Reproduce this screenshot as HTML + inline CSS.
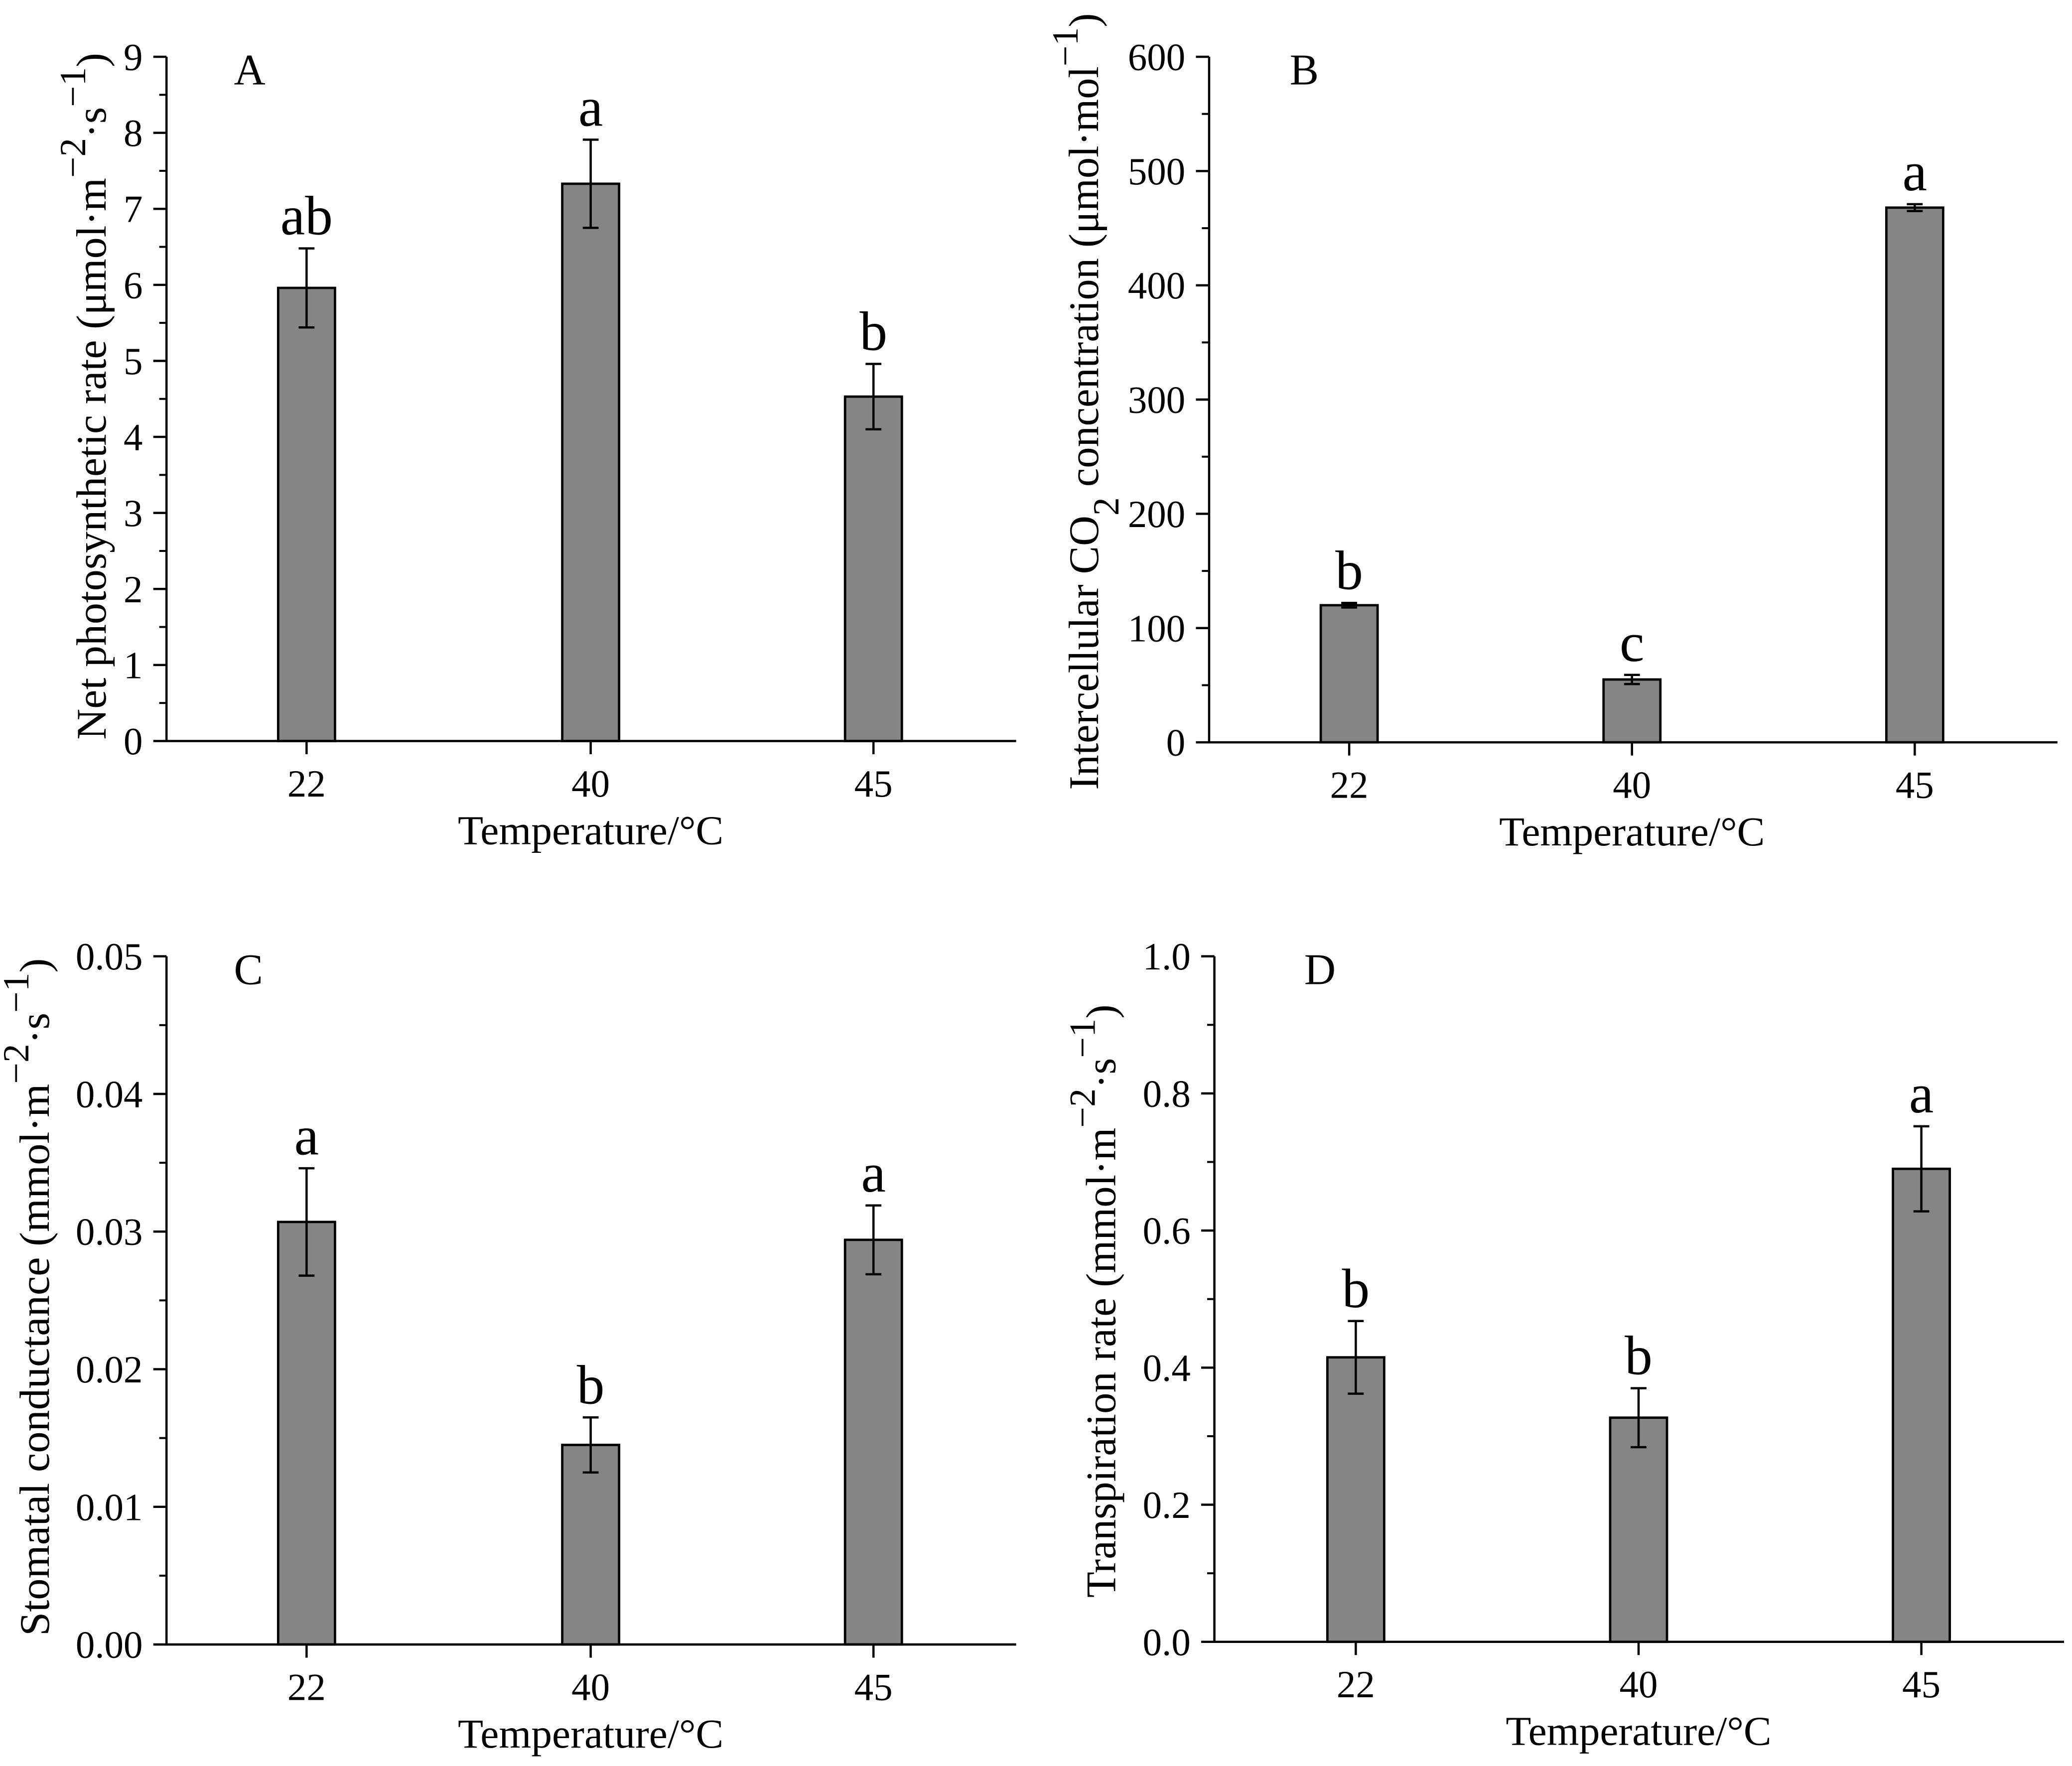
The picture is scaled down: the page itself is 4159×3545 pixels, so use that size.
<!DOCTYPE html>
<html><head><meta charset="utf-8"><style>
html,body{margin:0;padding:0;background:#fff}
svg{display:block}
text{font-family:"Liberation Serif",serif;fill:#000}
</style></head>
<body>
<svg id="fig" width="4159" height="3545" viewBox="0 0 1568 1337" preserveAspectRatio="none" xmlns="http://www.w3.org/2000/svg"></svg>
<script>
const categories = ["22","40","45"];
const valuesA = [5.96, 7.33, 4.53];
const errorsA = [0.52, 0.58, 0.43];
const lettersA = ["ab","a","b"];
const ticksA = [0,1,2,3,4,5,6,7,8,9];
const valuesB = [120, 55, 468];
const errorsB = [2, 4, 3];
const lettersB = ["b","c","a"];
const ticksB = [0,100,200,300,400,500,600];
const valuesC = [0.0307, 0.0145, 0.0294];
const errorsC = [0.0039, 0.0020, 0.0025];
const lettersC = ["a","b","a"];
const ticksC = ["0.00","0.01","0.02","0.03","0.04","0.05"];
const valuesD = [0.415, 0.327, 0.690];
const errorsD = [0.053, 0.043, 0.062];
const lettersD = ["b","b","a"];
const ticksD = ["0.0","0.2","0.4","0.6","0.8","1.0"];

const NS = "http://www.w3.org/2000/svg";
const svg = document.getElementById("fig");
function mk(tag, attrs, parent, txt){
  const e = document.createElementNS(NS, tag);
  for (const k in attrs) e.setAttribute(k, attrs[k]);
  if (txt !== undefined) e.textContent = txt;
  (parent || svg).appendChild(e);
  return e;
}

function panel(o){
  const g = mk("g", {});
  
  
  const tickVals = o.ticks.map(Number);
  const ymax = tickVals[tickVals.length-1];
  const ys = v => o.y0 - (v/ymax)*(o.y0 - o.yTop);
  const xs = i => o.xc[i];
  o.vals.forEach((v,i)=>{
    const b = mk("rect", {x: xs(i)-21.5, y: ys(v), width: 43, height: o.y0 - ys(v), fill:"#858585", stroke:"#000", "stroke-width":1.8}, g);
    
    
    const top = ys(v + o.errs[i]), bot = ys(v - o.errs[i]);
    const e = mk("path", {d:`M${xs(i)},${top}V${bot}M${xs(i)-6},${top}H${xs(i)+6}M${xs(i)-6},${bot}H${xs(i)+6}`, stroke:"#000", "stroke-width":1.7, fill:"none"}, g);
    
    
    const l = mk("text", {x: xs(i), y: top - 10.5, "text-anchor":"middle", "font-size":42}, g, o.letters[i]);
    
    
  });
  const ax = mk("path", {d:`M${o.x0},${o.yTop}V${o.y0}H${o.x1}`, stroke:"#000", "stroke-width":1.7, fill:"none"}, g);
  
  
  tickVals.forEach((t,k)=>{
    const y = ys(t);
    mk("line", {x1:o.x0-10, x2:o.x0, y1:y, y2:y, stroke:"#000", "stroke-width":1.7}, g);
    const tl = mk("text", {x:o.x0-18, y:y+10, "text-anchor":"end", "font-size":29}, g, o.ticks[k]);
    
    
    if (k < tickVals.length-1){
      const ym = ys((t + tickVals[k+1])/2);
      mk("line", {x1:o.x0-5.5, x2:o.x0, y1:ym, y2:ym, stroke:"#000", "stroke-width":1.5}, g);
    }
  });
  categories.forEach((c,i)=>{
    mk("line", {x1:xs(i), x2:xs(i), y1:o.y0, y2:o.y0+10, stroke:"#000", "stroke-width":1.7}, g);
    const xl = mk("text", {x:xs(i), y:o.y0+42, "text-anchor":"middle", "font-size":29}, g, c);
    
    
  });
  const xt = mk("text", {x:xs(1), y:o.y0+78, "text-anchor":"middle", "font-size":31, textLength:201, lengthAdjust:"spacingAndGlyphs"}, g, "Temperature/°C");
  
  
  const pl = mk("text", {x:o.plx, y:o.yTop+21, "font-size":33}, g, o.id);
  
  
  const yt = mk("text", {transform:`translate(${o.ytx},${o.ytc}) rotate(-90)`, "text-anchor":"middle", "font-size":32, textLength:o.ytl, lengthAdjust:"spacingAndGlyphs"}, g);
  
  
  o.title.forEach(p=>{
    mk("tspan", p.sh ? {"baseline-shift":p.sh, "font-size":28} : {}, yt, p.t);
  });
}

panel({id:"A", x0:126, x1:769, yTop:43, y0:561, xc:[232,447,661], vals:valuesA, errs:errorsA, letters:lettersA, ticks:ticksA.map(String), plx:177, ytx:80, ytc:300, ytl:520,
  title:[{t:"Net photosynthetic rate (μmol·m"},{t:"−2",sh:"super"},{t:"·s"},{t:"−1",sh:"super"},{t:")"}]});
panel({id:"B", x0:915, x1:1557, yTop:43, y0:562, xc:[1021,1235,1449], vals:valuesB, errs:errorsB, letters:lettersB, ticks:ticksB.map(String), plx:976, ytx:831, ytc:304, ytl:588,
  title:[{t:"Intercellular CO"},{t:"2",sh:"sub"},{t:" concentration (μmol·mol"},{t:"−1",sh:"super"},{t:")"}]});
panel({id:"C", x0:126, x1:769, yTop:724, y0:1245, xc:[232,447,661], vals:valuesC, errs:errorsC, letters:lettersC, ticks:ticksC, plx:177, ytx:37, ytc:982, ytl:513,
  title:[{t:"Stomatal conductance (mmol·m"},{t:"−2",sh:"super"},{t:"·s"},{t:"−1",sh:"super"},{t:")"}]});
panel({id:"D", x0:919, x1:1562, yTop:724, y0:1243, xc:[1026,1240,1454], vals:valuesD, errs:errorsD, letters:lettersD, ticks:ticksD, plx:987, ytx:844, ytc:985, ytl:449,
  title:[{t:"Transpiration rate (mmol·m"},{t:"−2",sh:"super"},{t:"·s"},{t:"−1",sh:"super"},{t:")"}]});
</script>
</body></html>
